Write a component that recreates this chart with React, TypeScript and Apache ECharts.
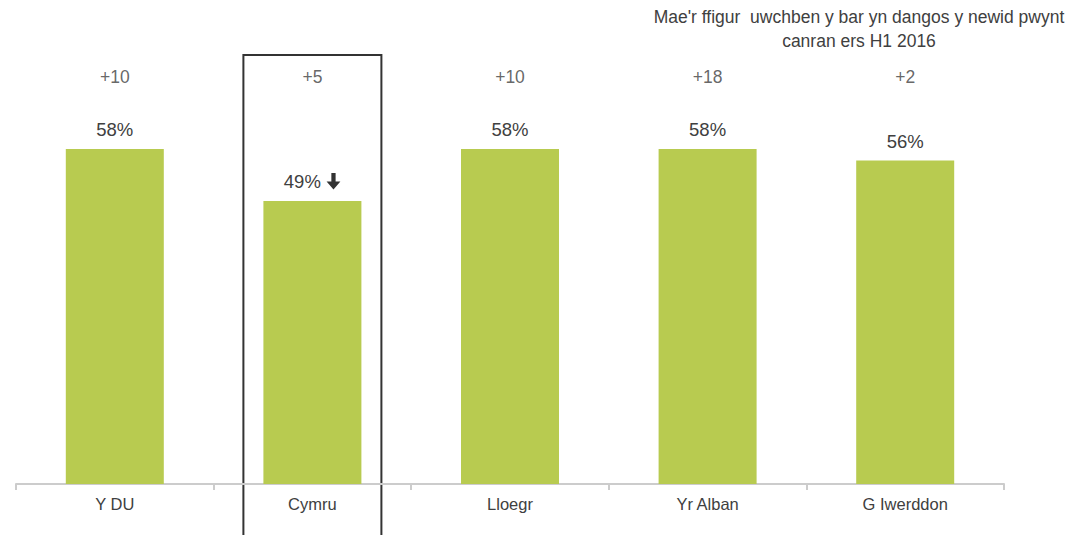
import React, { useEffect, useRef } from "react";
import * as echarts from "echarts";

const categories = ["Y DU", "Cymru", "Lloegr", "Yr Alban", "G Iwerddon"];
const values = [58, 49, 58, 58, 56];
const changes = ["+10", "+5", "+10", "+18", "+2"];
const downArrow = [false, true, false, false, false];
const changeRowLevel = 70.5;
const highlighted = "Cymru";
const noteText = "Mae'r ffigur  uwchben y bar yn dangos y newid pwynt\ncanran ers H1 2016";

const FONT = "'Liberation Sans', Arial, sans-serif";
const TEXT = "#404040";

const arrowSvg =
  "data:image/svg+xml;utf8," +
  encodeURIComponent(
    '<svg xmlns="http://www.w3.org/2000/svg" width="14" height="16" viewBox="0 0 14 16"><polygon points="5,0 9,0 9,8 13.5,8 7,15.5 0.5,8 5,8" fill="#333333"/></svg>'
  );

export default function App() {
  const ref = useRef<HTMLDivElement>(null);
  useEffect(() => {
    if (!ref.current) return;
    const chart = echarts.init(ref.current, undefined, { renderer: "svg" });
    chart.setOption({
      animation: false,
      textStyle: { fontFamily: FONT },
      grid: { left: 16, right: 64, top: 22, bottom: 51, containLabel: false },
      title: {
        text: noteText,
        left: 859,
        top: 5,
        padding: 0,
        textAlign: "center",
        textStyle: {
          fontSize: 17.5,
          fontWeight: "normal",
          color: TEXT,
          lineHeight: 24,
          fontFamily: FONT,
          align: "center",
        },
      },
      xAxis: {
        type: "category",
        data: categories,
        axisLine: { show: true, lineStyle: { color: "#cccccc", width: 2 } },
        axisTick: { show: true, length: 6, lineStyle: { color: "#cccccc", width: 2 } },
        axisLabel: { color: TEXT, fontSize: 16.5, margin: 11, fontFamily: FONT },
      },
      yAxis: {
        type: "value",
        min: 0,
        max: 80,
        show: false,
        splitLine: { show: false },
      },
      series: [
        {
          type: "bar",
          data: values,
          barWidth: 98,
          itemStyle: { color: "#b8cb50" },
          label: {
            show: true,
            position: "top",
            distance: 10,
            fontSize: 18.5,
            color: TEXT,
            fontFamily: FONT,
            formatter: (p: any) =>
              downArrow[p.dataIndex] ? `${p.value}% {arr|}` : `${p.value}%`,
            rich: {
              arr: {
                width: 15,
                height: 17,
                backgroundColor: { image: arrowSvg },
              },
            },
          },
        },
        {
          type: "scatter",
          data: changes.map(() => changeRowLevel),
          symbolSize: 0,
          silent: true,
          label: {
            show: true,
            position: "inside",
            fontSize: 17.5,
            color: TEXT,
            fontFamily: FONT,
            formatter: (p: any) => changes[p.dataIndex],
          },
        },
      ],
    });
    const cx = chart.convertToPixel({ xAxisIndex: 0 }, highlighted) as number;
    chart.setOption({
      graphic: [
        {
          type: "rect",
          shape: { x: cx - 69, y: 55, width: 138, height: 520 },
          style: { fill: "none", stroke: "#333333", lineWidth: 2 },
          silent: true,
        },
      ],
    });
    return () => chart.dispose();
  }, []);
  return <div ref={ref} style={{ width: 1068, height: 535, position: "absolute", left: 0, top: 0 }} />;
}
